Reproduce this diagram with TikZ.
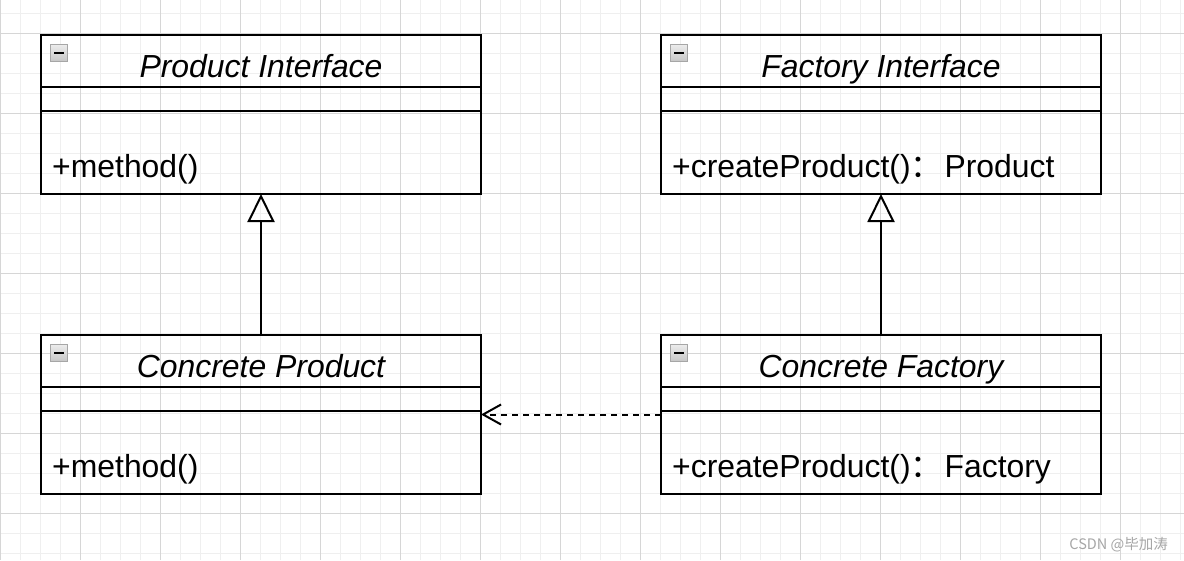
\documentclass[tikz,border=0pt]{standalone}
\usepackage{fontspec}
\setmainfont{Liberation Sans}
\newfontfamily\cjk{Noto Sans CJK SC}
\usetikzlibrary{arrows.meta}

\definecolor{gridminor}{HTML}{EFEFEF}
\definecolor{gridmajor}{HTML}{D6D6D6}

\tikzset{
  classbox/.style={draw=black, line width=2pt, minimum width=440pt, minimum height=159pt, inner sep=0pt, outer sep=0pt, anchor=north west},
  classline/.style={draw=black, line width=2pt},
  classtitle/.style={font=\fontsize{31.9}{36}\selectfont\itshape, anchor=base, inner sep=0pt},
  classop/.style={font=\fontsize{31.9}{36}\selectfont, anchor=base west, inner sep=0pt},
  collapsebox/.style={draw=gray!70, line width=1.5pt, top color=gray!15, bottom color=gray!45, minimum size=17pt, inner sep=0pt,
    path picture={\draw[draw=black, line width=2.5pt] ([xshift=3.5pt]path picture bounding box.west) -- ([xshift=-3.5pt]path picture bounding box.east);}},
  implements/.style={draw=black, line width=2pt, -{Triangle[open, length=28pt, width=27pt]}},
  depends/.style={draw=black, line width=2pt, dash pattern=on 6pt off 5pt, -{Straight Barb[length=18pt, width=20pt]}}
}

% one class: name, x, y, title, operation
\newcommand{\umlclass}[5]{%
  \begin{scope}[shift={(#2,#3)}]
    \node[classbox] (#1) at (0,0) {};
    \path[classline] (0,52) -- (440,52);
    \path[classline] (0,76) -- (440,76);
    \node[collapsebox] (#1-icon) at (18,18) {};
    \node[classtitle] (#1-title) at (220,42) {#4};
    \node[classop] (#1-op) at (11,142) {#5};
  \end{scope}}

\begin{document}
\begin{tikzpicture}[x=1pt, y=-1pt]

  \useasboundingbox (0,0) rectangle (1184,560);
  \fill[white] (0,0) rectangle (1184,560);

  % grid
  \foreach \gx in {0,20,...,1180} \draw[gridminor, line width=1pt] (\gx,0) -- (\gx,560);
  \foreach \gy in {13,33,...,553} \draw[gridminor, line width=1pt] (0,\gy) -- (1184,\gy);
  \foreach \gx in {0,80,...,1160} \draw[gridmajor, line width=1pt] (\gx,0) -- (\gx,560);
  \foreach \gy in {33,113,...,513} \draw[gridmajor, line width=1pt] (0,\gy) -- (1184,\gy);

  % classes
  \umlclass{pint}{41}{35}{Product Interface}{+method()}
  \umlclass{fint}{661}{35}{Factory Interface}{+createProduct(){\cjk ：}\hspace{2pt}Product}
  \umlclass{cprod}{41}{335}{Concrete Product}{+method()}
  \umlclass{cfac}{661}{335}{Concrete Factory}{+createProduct(){\cjk ：}\hspace{2pt}Factory}

  % relations
  \draw[implements] (cprod) -- (pint);
  \draw[implements] (cfac) -- (fint);
  \draw[depends] (cfac) -- (cprod);

  % watermark
  \node[font=\cjk\fontsize{14.5}{16}\selectfont, text=gray!70, anchor=east, inner sep=0pt] (mark) at (1168,545) {CSDN @毕加涛};

\end{tikzpicture}
\end{document}
